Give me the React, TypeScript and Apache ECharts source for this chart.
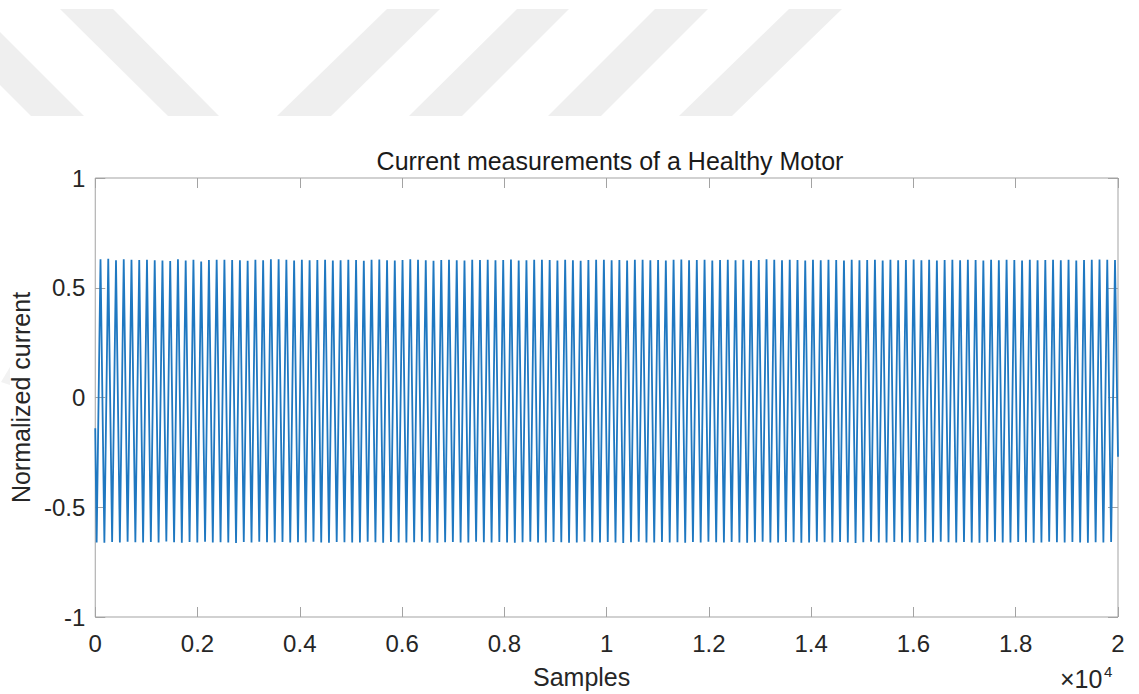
import React, { useEffect, useRef } from "react";
import * as echarts from "echarts";

// ---- data ----
const TITLE = "Current measurements of a Healthy Motor";
const X_NAME = "Samples";
const Y_NAME = "Normalized current";
const X_EXP_BASE = "×10";
const X_EXP = "4";
const X_MIN = 0;
const X_MAX = 20000;
const X_TICK = 2000;
const X_SCALE = 10000;
const Y_MIN = -1;
const Y_MAX = 1;
const Y_TICK = 0.5;

// signal: starts at START_VALUE, first trough at FIRST_TROUGH, then alternating peaks/troughs
const START_VALUE = -0.14;
const END_VALUE = -0.27;
const FIRST_TROUGH = 27; // sample index
const HALF_PERIOD = 75.72; // samples between a trough and the next peak (read from peak spacing)

const peaks = [
  0.63, 0.632, 0.625, 0.63, 0.627, 0.626, 0.628, 0.625, 0.624, 0.622, 0.63, 0.624, 0.627, 0.62, 0.626, 0.628, 0.627, 0.626, 0.625, 0.623, 0.627, 0.625, 0.63, 0.63, 0.627, 0.624,
  0.628, 0.625, 0.626, 0.627, 0.624, 0.625, 0.628, 0.626, 0.623, 0.627, 0.629, 0.625, 0.624, 0.626, 0.63, 0.627, 0.625, 0.623, 0.626, 0.628, 0.625, 0.624, 0.627, 0.626, 0.628, 0.625,
  0.626, 0.629, 0.624, 0.625, 0.627, 0.628, 0.626, 0.624, 0.627, 0.625, 0.623, 0.626, 0.628, 0.627, 0.625, 0.626, 0.624, 0.628, 0.627, 0.625, 0.626, 0.624, 0.627, 0.629, 0.625, 0.626,
  0.627, 0.624, 0.626, 0.628, 0.625, 0.627, 0.623, 0.626, 0.63, 0.628, 0.625, 0.627, 0.626, 0.624, 0.627, 0.625, 0.628, 0.626, 0.624, 0.627, 0.625, 0.626, 0.628, 0.624, 0.627, 0.625,
  0.626, 0.629, 0.625, 0.627, 0.624, 0.626, 0.628, 0.625, 0.627, 0.626, 0.624, 0.628, 0.625, 0.627, 0.626, 0.624, 0.627, 0.625, 0.626, 0.628, 0.625, 0.627, 0.624, 0.626, 0.627, 0.629, 0.628, 0.626,
];

const troughs = [
  -0.66, -0.662, -0.658, -0.66, -0.657, -0.659, -0.661, -0.658, -0.66, -0.656, -0.659, -0.662, -0.658, -0.66, -0.657, -0.661, -0.659, -0.66, -0.663, -0.658, -0.66, -0.657, -0.659, -0.661, -0.658, -0.66,
  -0.659, -0.661, -0.657, -0.66, -0.662, -0.658, -0.659, -0.661, -0.66, -0.657, -0.659, -0.662, -0.658, -0.66, -0.661, -0.659, -0.657, -0.66, -0.662, -0.659, -0.658, -0.661, -0.66, -0.657, -0.659, -0.661,
  -0.658, -0.66, -0.662, -0.659, -0.657, -0.661, -0.66, -0.658, -0.659, -0.662, -0.66, -0.657, -0.659, -0.661, -0.658, -0.66, -0.663, -0.659, -0.657, -0.66, -0.661, -0.658, -0.66, -0.659, -0.662, -0.658,
  -0.66, -0.657, -0.659, -0.661, -0.658, -0.66, -0.662, -0.659, -0.657, -0.66, -0.661, -0.658, -0.659, -0.662, -0.66, -0.657, -0.659, -0.661, -0.658, -0.66, -0.663, -0.659, -0.657, -0.66, -0.661, -0.658,
  -0.66, -0.659, -0.662, -0.658, -0.66, -0.657, -0.659, -0.661, -0.658, -0.66, -0.662, -0.659, -0.657, -0.66, -0.661, -0.658, -0.659, -0.662, -0.66, -0.657, -0.659, -0.661, -0.658, -0.66, -0.662, -0.659, -0.66, -0.658,
];

const buildSeries = (): [number, number][] => {
  const pts: [number, number][] = [[X_MIN, START_VALUE]];
  const n = Math.min(peaks.length, troughs.length);
  for (let k = 0; k < n; k++) {
    const tx = FIRST_TROUGH + 2 * k * HALF_PERIOD;
    pts.push([tx, troughs[k]]);
    pts.push([tx + HALF_PERIOD, peaks[k]]);
  }
  pts.push([X_MAX, END_VALUE]);
  return pts;
};

const FONT = "'Liberation Sans', Arial, Helvetica, sans-serif";
const AXIS_GRAY = "#a3a3a3";
const TEXT = "#262626";

export default function App() {
  const ref = useRef<HTMLDivElement>(null);
  useEffect(() => {
    if (!ref.current) return;
    const chart = echarts.init(ref.current, undefined, { renderer: "svg" });
    const stripe = (pts: number[][], fill = "#efefef") => ({
      type: "polygon",
      shape: { points: pts },
      style: { fill },
      silent: true,
      z: -10,
    });
    const tickCommon = () => ({
      axisLine: { show: false, onZero: false },
      axisTick: { show: true, inside: true, length: 10, lineStyle: { color: AXIS_GRAY, width: 1 } },
      splitLine: { show: false },
    });
    chart.setOption({
      animation: false,
      backgroundColor: "#ffffff",
      title: {
        text: TITLE,
        left: 605,
        top: 143,
        textAlign: "center",
        textStyle: { fontFamily: FONT, fontSize: 25, fontWeight: "normal", color: "#1a1a1a" },
      },
      grid: {
        left: 93,
        right: 21,
        top: 178,
        bottom: 75,
        show: true,
        borderColor: AXIS_GRAY,
        borderWidth: 1,
        backgroundColor: "transparent",
      },
      graphic: [
        stripe([[-76, 9], [-23, 9], [84, 116], [31, 116]]),
        stripe([[60, 9], [113, 9], [219, 116], [168, 116]]),
        stripe([[387, 9], [440, 9], [331, 116], [277, 116]]),
        stripe([[517, 9], [569, 9], [462, 116], [409, 116]]),
        stripe([[655, 9], [708, 9], [601, 116], [548, 116]]),
        stripe([[789, 9], [842, 9], [732, 116], [679, 116]]),
        stripe([[1, 382], [10, 367], [10, 385]], "#f2f2f2"),
        {
          type: "text",
          x: 1060,
          y: 679,
          style: {
            text: X_EXP_BASE,
            fontFamily: FONT,
            fontSize: 25,
            fill: TEXT,
            verticalAlign: "middle",
            align: "left",
          },
        },
        {
          type: "text",
          x: 1104,
          y: 671,
          style: {
            text: X_EXP,
            fontFamily: FONT,
            fontSize: 15,
            fill: TEXT,
            verticalAlign: "middle",
            align: "left",
          },
        },
      ],
      xAxis: [
        {
          type: "value",
          min: X_MIN,
          max: X_MAX,
          interval: X_TICK,
          position: "bottom",
          ...tickCommon(),
          name: X_NAME,
          nameLocation: "middle",
          nameGap: 47,
          nameTextStyle: { fontFamily: FONT, fontSize: 25, color: TEXT, padding: [0, 50, 0, 0] },
          axisLabel: {
            fontFamily: FONT,
            fontSize: 24,
            color: TEXT,
            margin: 14,
            formatter: (v: number) => String(v / X_SCALE),
          },
        },
        {
          type: "value",
          min: X_MIN,
          max: X_MAX,
          interval: X_TICK,
          position: "top",
          ...tickCommon(),
          axisLabel: { show: false },
        },
      ],
      yAxis: [
        {
          type: "value",
          min: Y_MIN,
          max: Y_MAX,
          interval: Y_TICK,
          position: "left",
          ...tickCommon(),
          name: Y_NAME,
          nameLocation: "middle",
          nameGap: 55,
          nameTextStyle: { fontFamily: FONT, fontSize: 25, color: TEXT },
          axisLabel: { fontFamily: FONT, fontSize: 24, color: TEXT, margin: 10 },
        },
        {
          type: "value",
          min: Y_MIN,
          max: Y_MAX,
          interval: Y_TICK,
          position: "right",
          ...tickCommon(),
          axisLabel: { show: false },
        },
      ],
      series: [
        {
          type: "line",
          data: buildSeries(),
          xAxisIndex: 0,
          yAxisIndex: 0,
          showSymbol: false,
          symbol: "none",
          clip: true,
          lineStyle: { color: "#1f78c1", width: 1.8 },
        },
      ],
    });
    return () => chart.dispose();
  }, []);
  return <div ref={ref} style={{ position: "fixed", left: 0, top: 0, width: 1139, height: 694 }} />;
}
